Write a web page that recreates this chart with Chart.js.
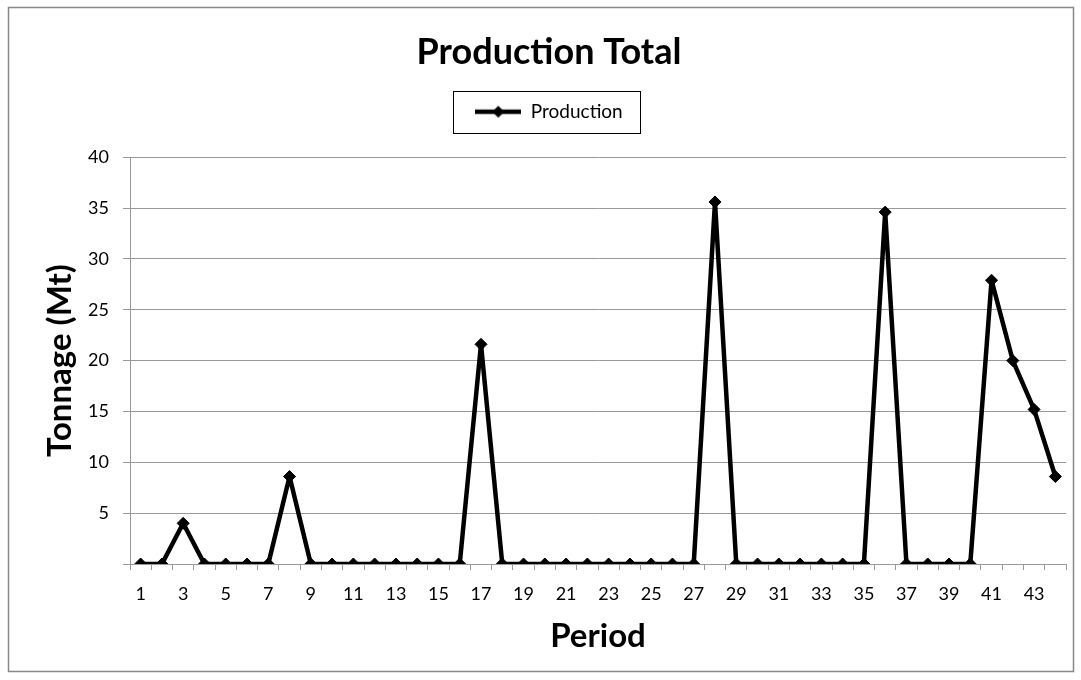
<!DOCTYPE html>
<html>
<head>
<meta charset="utf-8">
<script src="https://cdn.jsdelivr.net/npm/chart.js@4.4.1/dist/chart.umd.min.js"></script>
<style>
  html, body { margin: 0; padding: 0; background: #fff; }
  #wrap { width: 1081px; height: 680px; }
</style>
</head>
<body>
<div id="wrap"><canvas id="c" width="1081" height="680"></canvas></div>
<script>
const periods = ["1","2","3","4","5","6","7","8","9","10","11","12","13","14","15","16","17","18","19","20","21","22","23","24","25","26","27","28","29","30","31","32","33","34","35","36","37","38","39","40","41","42","43","44"];
const production = [0,0,4.0,0,0,0,0,8.6,0,0,0,0,0,0,0,0,21.6,0,0,0,0,0,0,0,0,0,0,35.6,0,0,0,0,0,0,0,34.6,0,0,0,0,27.9,20.0,15.2,8.6];
const yTicks = [0,5,10,15,20,25,30,35,40];

const FONT = "Lato, 'Open Sans', sans-serif";

// legend symbol: line with a diamond
const sym = document.createElement('canvas');
sym.width = 46; sym.height = 14;
(function () {
  const g = sym.getContext('2d');
  g.strokeStyle = '#000'; g.lineWidth = 4.5;
  g.beginPath(); g.moveTo(0, 7); g.lineTo(46, 7); g.stroke();
  g.fillStyle = '#000';
  g.beginPath(); g.moveTo(23, 1); g.lineTo(29, 7); g.lineTo(23, 13); g.lineTo(17, 7); g.closePath(); g.fill();
})();

const framePlugin = {
  id: 'frame',
  beforeDraw(chart) {
    const ctx = chart.ctx;
    ctx.save();
    ctx.fillStyle = '#fff';
    ctx.fillRect(0, 0, chart.width, chart.height);
    ctx.strokeStyle = '#888';
    ctx.lineWidth = 1.5;
    ctx.strokeRect(8.5, 7.5, 1065, 664);
    ctx.restore();
  },
  afterDraw(chart) {
    const lg = chart.legend;
    if (!lg || !lg.legendHitBoxes || !lg.legendHitBoxes.length) return;
    const hb = lg.legendHitBoxes[0];
    const ctx = chart.ctx;
    const cy = hb.top + hb.height / 2;
    ctx.save();
    ctx.strokeStyle = '#000';
    ctx.lineWidth = 1;
    ctx.strokeRect(Math.round(hb.left - 22) + 0.5, Math.round(cy - 21) + 0.5, Math.round(hb.width + 40), 42);
    ctx.restore();
  }
};

new Chart(document.getElementById('c'), {
  type: 'line',
  data: {
    labels: periods,
    datasets: [{
      label: 'Production',
      data: production,
      borderColor: '#000',
      backgroundColor: '#000',
      borderWidth: 4.5,
      borderJoinStyle: 'round',
      tension: 0,
      pointStyle: 'rectRot',
      pointRadius: 6,
      pointBorderWidth: 1,
      pointBackgroundColor: '#000',
      pointBorderColor: '#000',
      fill: false
    }]
  },
  options: {
    responsive: false,
    animation: false,
    layout: { padding: { left: 32, right: 15, top: 0, bottom: 0 } },
    plugins: {
      title: {
        display: true,
        text: 'Production Total',
        color: '#000',
        font: { family: FONT, size: 36, weight: 'bold' },
        padding: { top: 31, bottom: 8 }
      },
      subtitle: {
        display: true,
        text: ' ',
        weight: 500,
        font: { family: FONT, size: 10 },
        padding: { top: 7, bottom: 7 }
      },
      legend: {
        display: true,
        position: 'top',
        labels: {
          color: '#000',
          font: { family: FONT, size: 19 },
          usePointStyle: true,
          pointStyle: sym,
          pointStyleWidth: 46,
          padding: 20
        }
      },
      tooltip: { enabled: false }
    },
    scales: {
      x: {
        type: 'category',
        offset: true,
        grid: { display: true, drawOnChartArea: false, offset: true, tickLength: 6, color: '#999', lineWidth: 1 },
        border: { display: true, color: '#999', width: 1 },
        ticks: {
          autoSkip: false,
          maxRotation: 0,
          minRotation: 0,
          padding: 13,
          color: '#000',
          font: { family: FONT, size: 18 },
          callback: function (v, i) { return i % 2 === 0 ? periods[i] : ''; }
        },
        title: {
          display: true,
          text: 'Period',
          color: '#000',
          font: { family: FONT, size: 33, weight: 'bold' },
          padding: { top: 0, bottom: 24 }
        },
        afterFit: function (s) { s.height = 116; }
      },
      y: {
        min: 0,
        max: 40,
        afterBuildTicks: function (s) { s.ticks = yTicks.map(v => ({ value: v })); },
        grid: { color: '#999', lineWidth: 1, tickLength: 7 },
        border: { display: true, color: '#999', width: 1 },
        ticks: {
          padding: 14,
          color: '#000',
          font: { family: FONT, size: 18 },
          callback: function (v) { return v === 0 ? '' : String(v); }
        },
        title: {
          display: true,
          text: 'Tonnage (Mt)',
          color: '#000',
          font: { family: FONT, size: 33, weight: 'bold' },
          padding: { top: 9, bottom: 0 }
        },
        afterFit: function (s) { s.width = 98; }
      }
    }
  },
  plugins: [framePlugin]
});
</script>
</body>
</html>
